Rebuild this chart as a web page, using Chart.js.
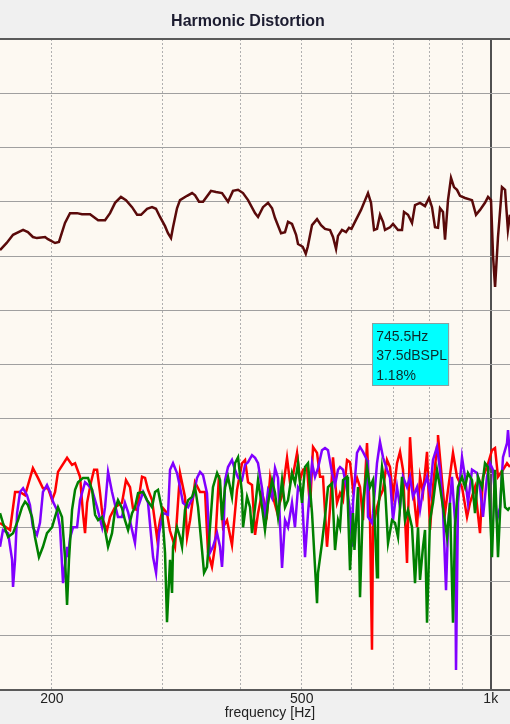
<!doctype html>
<html><head>
<script src="https://cdn.jsdelivr.net/npm/chart.js"></script>
<style>
html, body { margin: 0; padding: 0; background: #f0f0f0; }
canvas { display: block; }
</style>
</head>
<body>
<canvas id="myChart" width="510" height="724"></canvas>
<script>
var chartTitle = 'Harmonic Distortion';
var xTitle = 'frequency [Hz]';
var xTicks = [200, 300, 400, 500, 600, 700, 800, 900, 1000];
var xTickLabels = { 200: '200', 500: '500', 1000: '1k' };
var cursorHz = 745.5;
var cursorText = ['745.5Hz', '37.5dBSPL', '1.18%'];

// fundamental (dark brown)
var fundHz = [
  165.3,169.4,173.4,179.9,183.1,186.5,189.3,195.0,197.1,202.3,
  205.2,209.8,213.7,219.3,223.3,230.0,236.9,243.0,247.5,252.1,
  257.6,262.4,268.3,273.3,277.3,283.5,288.7,292.9,297.3,302.8,
  306.1,309.5,311.8,316.4,319.9,328.3,334.4,338.1,343.0,348.1,
  358.4,365.1,373.2,381.5,388.5,395.8,403.1,410.6,421.2,425.9,
  433.7,441.8,448.4,453.3,463.4,470.2,475.4,482.4,489.7,493.2,
  501.8,507.4,511.1,519.2,528.8,536.6,544.5,554.6,560.7,567.0,
  571.1,579.5,588.1,594.6,600.0,606.6,621.4,637.5,644.6,651.8,
  659.0,666.2,673.6,678.5,691.1,698.8,711.7,722.2,727.5,738.3,
  749.2,757.5,771.5,785.8,797.4,806.2,815.1,824.1,830.2,839.4,
  845.6,854.9,864.4,873.9,883.6,893.4,910.0,933.6,947.4,961.4,
  979.1,990.1,1001,1008.7,1016,1027,1042,1054,1065,1073
];
var fundDb = [
  81.1,82.4,83.9,84.8,84.4,83.5,83.3,83.5,83.1,82.4,
  82.6,86.1,87.9,87.9,87.7,87.7,86.6,86.6,87.9,89.8,
  90.9,90.3,89.0,87.6,87.6,88.7,89.0,88.7,87.2,85.5,
  84.2,83.3,85.3,88.8,90.3,91.1,91.6,91.2,90.0,90.0,
  92.0,91.8,91.6,90.0,92.0,92.2,91.6,90.3,87.9,87.2,
  89.0,89.8,88.8,87.0,84.2,84.4,86.3,85.9,83.9,82.2,
  81.7,80.4,81.7,85.7,86.8,85.7,85.0,84.8,83.5,81.3,
  83.7,84.8,84.4,85.2,85.0,86.1,88.5,91.6,89.8,84.8,
  85.0,87.6,86.3,84.8,85.3,85.9,84.8,84.8,88.1,87.6,
  86.1,89.4,89.8,89.2,90.7,89.0,85.3,85.2,88.8,88.1,
  83.0,90.3,94.4,92.7,92.2,91.1,90.7,90.3,87.6,88.5,
  89.8,90.9,90.3,79.8,74.3,83.5,92.7,92.2,84.8,87.6
];

// red trace
var h2Hz = [
  165.3,171.5,174.7,177.9,181.2,186.5,190.0,193.5,197.1,200.1,
  202.3,204.5,211.4,215.3,217.7,221.7,224.1,225.8,227.5,230.8,
  233.4,236.0,238.6,241.2,244.8,247.5,252.1,258.6,262.4,266.3,
  269.2,273.3,278.3,281.4,284.5,288.7,294.1,297.3,300.6,305.0,
  308.4,314.1,319.9,325.8,328.3,331.9,338.0,344.3,350.7,354.5,
  359.7,363.7,369.1,374.6,380.1,387.1,394.3,401.6,406.1,410.6,
  416.6,421.3,425.9,432.2,440.2,445.1,450.0,456.7,465.1,473.7,
  478.9,484.2,491.4,496.8,502.3,509.8,515.4,521.1,528.8,534.6,
  540.5,548.5,554.6,560.7,569.0,575.3,581.7,590.3,596.8,603.4,
  612.3,619.1,625.9,635.2,642.2,646.9,649.3,658.9,666.2,673.6,
  683.5,691.1,698.7,709.1,716.9,724.8,735.6,743.7,751.9,763.1,
  771.5,780.0,791.6,800.3,809.1,821.1,824.1,836.3,845.6,854.9,
  870.7,883.6,900.0,916.7,926.8,943.9,961.4,972.0,986.4,1004.6,
  1015.8,1027.0,1046.0,1061.5,1073.2
];
var h2Db = [
  30.8,29.5,36.5,36.5,35.9,40.9,39.1,37.2,37.2,35.0,
  36.5,40.2,42.8,41.5,41.8,39.3,32.6,28.9,34.5,38.3,
  40.6,40.6,36.3,31.3,29.5,31.9,33.7,34.5,38.7,37.4,
  33.5,33.2,39.3,39.1,36.9,35.0,28.0,31.3,33.5,32.6,
  29.3,26.4,40.0,35.6,28.2,31.3,38.3,36.5,36.5,25.4,
  22.7,26.4,39.6,30.0,31.3,26.7,36.9,41.8,42.4,38.3,
  37.8,28.6,32.6,36.3,32.6,39.1,35.6,32.8,35.9,42.8,
  38.3,39.6,43.7,38.7,40.6,40.9,33.7,44.8,43.7,39.3,
  39.3,26.4,33.5,42.9,34.5,36.3,35.0,42.4,42.0,36.9,
  39.1,37.4,31.3,45.5,31.3,7.4,30.0,33.7,35.6,36.9,
  42.4,41.1,35.6,41.8,43.9,40.6,23.4,46.6,37.4,30.0,
  39.3,36.3,43.9,29.5,37.4,44.8,47.0,38.7,32.6,36.9,
  43.7,39.3,37.4,31.9,34.5,37.4,28.9,39.3,41.1,44.2,
  44.6,39.3,40.6,41.8,41.1
];

// purple trace
var h3Hz = [
  165.3,167.1,170.3,172.8,173.4,174.7,176.0,177.9,179.9,182.5,
  184.5,186.5,189.3,191.4,193.5,196.4,198.6,200.8,203.7,206.0,
  208.3,211.4,212.1,213.7,216.1,219.3,221.7,225.8,228.3,231.7,
  236.0,240.4,243.0,245.7,249.3,252.1,254.8,258.6,261.4,264.4,
  268.3,271.2,274.3,279.4,284.5,289.8,293.0,296.2,300.6,306.1,
  308.4,311.8,316.4,319.9,323.4,329.5,335.6,340.5,344.3,348.1,
  353.2,357.1,361.0,366.5,370.5,373.2,374.6,377.4,381.5,387.1,
  391.4,395.8,401.6,406.1,410.6,416.6,421.3,425.9,432.2,436.9,
  441.9,448.4,453.3,458.3,465.1,470.2,475.4,482.4,487.7,493.2,
  500.4,506.0,511.6,519.2,524.9,530.7,538.5,544.5,550.5,558.7,
  564.9,571.1,575.3,581.7,590.3,596.8,601.2,603.4,612.3,619.1,
  625.9,635.2,637.5,646.9,649.3,658.9,666.2,673.6,683.5,691.1,
  698.7,709.1,716.9,724.8,735.6,743.7,751.9,763.1,771.5,780.0,
  791.6,800.3,809.1,821.1,830.2,839.4,848.7,854.9,867.5,877.1,
  880.4,886.9,900.0,909.9,920.0,933.6,950.9,961.4,972.0,986.4,
  997.3,1008.3,1023.3,1034.6,1046.0,1061.5,1065.4,1073.2
];
var h3Db = [
  26.4,29.5,28.9,24.0,19.0,24.0,32.6,36.5,37.2,35.9,
  34.1,30.0,28.6,30.8,36.5,37.8,36.5,34.7,33.2,30.0,
  19.7,26.4,24.5,28.0,30.0,30.0,35.0,38.3,37.8,36.9,
  33.7,30.0,33.7,40.2,36.5,34.1,31.9,31.9,34.5,32.8,
  29.5,27.1,33.7,36.5,34.5,24.5,21.6,28.9,32.6,32.3,
  40.6,41.8,40.0,37.4,34.5,33.7,35.6,39.1,40.2,39.6,
  36.3,25.3,26.4,28.9,26.4,22.7,25.8,38.7,41.1,42.4,
  40.6,39.1,38.7,41.5,42.0,43.3,42.8,41.8,37.2,31.9,
  36.9,35.4,40.9,39.1,22.5,31.3,30.0,34.5,30.0,37.4,
  36.3,24.5,32.6,41.8,39.3,40.9,44.2,44.6,44.2,40.0,
  37.8,40.6,41.1,40.6,36.9,33.2,26.4,34.5,43.7,44.8,
  43.9,42.4,31.9,30.8,32.6,41.8,45.7,42.9,40.6,39.1,
  31.3,37.4,33.7,39.3,37.4,39.3,35.6,37.4,33.2,36.9,
  39.3,36.3,42.4,44.8,40.6,33.2,18.4,30.0,39.3,31.3,
  3.7,34.5,42.9,39.3,34.5,40.6,40.0,37.4,31.9,39.3,
  41.8,40.6,31.3,33.7,42.9,45.5,47.9,42.9
];

// green trace
var h4Hz = [
  165.3,167.1,170.3,173.4,176.6,179.2,181.2,183.1,185.9,187.9,
  190.7,193.5,196.4,200.1,202.3,204.5,207.5,209.8,211.4,212.9,
  215.3,217.7,220.1,224.1,228.3,231.7,234.3,236.9,240.4,243.0,
  245.7,249.3,252.1,254.8,258.6,261.4,264.4,268.3,271.2,274.3,
  279.4,283.5,288.7,291.9,295.1,299.5,302.8,305.0,308.4,310.7,
  311.8,316.4,319.9,322.3,325.8,329.5,334.4,338.0,341.8,346.8,
  349.4,353.2,357.1,361.0,366.5,370.5,373.2,377.4,381.5,387.1,
  391.4,395.8,401.6,403.1,409.1,413.6,416.6,421.3,425.9,432.2,
  436.9,441.9,448.4,453.3,458.3,465.1,470.2,475.4,482.4,487.7,
  493.2,500.4,506.0,511.6,519.2,524.9,528.8,530.7,538.5,544.5,
  550.5,558.7,564.9,571.1,575.3,581.7,590.3,592.4,596.8,603.4,
  606.6,614.6,619.1,625.9,635.2,642.2,649.3,658.9,661.3,671.1,
  678.5,686.1,696.2,703.9,711.7,722.2,730.2,738.3,749.2,757.5,
  765.9,771.5,780.0,785.8,791.6,800.3,809.1,821.1,830.2,839.4,
  851.8,861.2,870.7,877.1,886.9,900.0,909.9,920.0,933.6,943.9,
  954.4,968.5,979.2,990.0,1004.6,1015.8,1027.0,1042.2,1053.7,1065.4,
  1073.2
];
var h4Db = [
  32.6,30.8,28.2,28.9,31.3,33.7,34.7,34.1,31.9,28.2,
  24.5,26.4,28.9,30.0,31.9,33.7,31.9,24.5,15.7,24.0,
  33.2,36.9,38.3,39.1,39.1,36.9,32.3,31.3,31.9,29.5,
  26.4,28.9,33.2,35.0,33.5,31.3,29.5,32.6,33.7,36.3,
  36.5,35.0,33.7,36.5,36.9,33.2,25.3,12.5,24.0,17.9,
  26.4,30.0,28.2,26.4,33.2,35.0,35.6,37.4,33.7,25.8,
  21.6,22.7,30.0,37.4,40.0,38.7,31.3,37.4,39.3,35.6,
  41.8,42.9,36.3,30.0,35.6,33.7,28.9,33.7,38.7,33.7,
  29.5,34.5,38.7,36.3,31.9,38.7,33.7,35.0,40.0,38.1,
  41.8,34.5,41.1,41.8,32.6,22.7,16.0,21.6,27.1,31.9,
  37.4,38.1,25.8,31.3,30.0,38.7,39.3,33.7,22.1,32.6,
  25.8,37.4,17.1,34.5,41.1,37.4,38.7,20.8,32.6,41.1,
  37.4,27.1,31.3,30.8,28.2,39.3,31.3,33.2,30.0,19.7,
  30.0,20.3,26.4,29.5,12.4,31.3,34.5,40.6,37.4,33.7,
  28.2,34.5,12.4,30.0,37.4,39.3,37.4,40.0,38.7,32.6,
  39.3,37.4,41.8,41.1,24.5,40.6,24.5,40.6,33.7,33.2,
  33.7
];

function pts(hz, db) {
    return hz.map(function(f, i) { return { x: f, y: db[i] }; });
}

function trace(label, hz, db, color) {
    return {
        label: label,
        data: pts(hz, db),
        borderColor: color,
        borderWidth: 2.5,
        pointRadius: 0,
        tension: 0,
        fill: false
    };
}

// background, title, axis caption and the cursor readout box
var frame = {
    id: 'frame',
    beforeDraw: function(chart) {
        var c = chart.ctx, a = chart.chartArea;
        c.save();
        c.fillStyle = '#f0f0f0';
        c.fillRect(0, 0, chart.width, chart.height);
        c.fillStyle = '#fdf9f2';
        c.fillRect(a.left, a.top, a.right - a.left, a.bottom - a.top);
        c.restore();
    },
    afterDraw: function(chart) {
        var c = chart.ctx;
        c.save();
        c.textAlign = 'center';
        c.textBaseline = 'middle';
        c.fillStyle = '#1c1c30';
        c.font = 'bold 16px "Liberation Sans"';
        c.fillText(chartTitle, 248, 22);
        c.fillStyle = '#222';
        c.font = '14px "Liberation Sans"';
        c.fillText(xTitle, 270, 713);

        var cx = chart.scales.x.getPixelForValue(cursorHz);
        var w = 77, h = 63, top = 323;
        c.fillStyle = '#00ffff';
        c.fillRect(cx - w / 2, top, w, h);
        c.strokeStyle = '#8aa0a0';
        c.lineWidth = 1;
        c.strokeRect(Math.round(cx - w / 2) + 0.5, top + 0.5, w - 1, h - 1);
        c.fillStyle = '#0c2c2c';
        c.textAlign = 'left';
        c.font = '14px "Liberation Sans"';
        cursorText.forEach(function(t, i) {
            c.fillText(t, cx - w / 2 + 4, top + 14 + i * 19.5);
        });
        c.restore();
    }
};

function isDecade(ctx) { return ctx.tick && ctx.tick.value === 1000; }
function isEdge(ctx) { return ctx.tick && (ctx.tick.value === 0 || ctx.tick.value === 120); }

var myChart = new Chart(document.getElementById('myChart'), {
    type: 'line',
    data: {
        datasets: [
            trace('green', h4Hz, h4Db, '#008000'),
            trace('purple', h3Hz, h3Db, '#8000ff'),
            trace('red', h2Hz, h2Db, '#ff0000'),
            trace('fundamental', fundHz, fundDb, '#5a0a0a')
        ]
    },
    options: {
        responsive: false,
        animation: false,
        devicePixelRatio: 1,
        layout: { padding: { top: 39, left: 0, right: 0, bottom: 0 } },
        plugins: {
            legend: { display: false },
            tooltip: { enabled: false },
            title: { display: false }
        },
        scales: {
            x: {
                type: 'logarithmic',
                min: 165.3,
                max: 1073.2,
                afterBuildTicks: function(s) {
                    s.ticks = xTicks.map(function(v) { return { value: v }; });
                },
                afterFit: function(s) { s.height = 34; },
                ticks: {
                    autoSkip: false,
                    maxRotation: 0,
                    padding: 1,
                    color: '#222',
                    font: { family: 'Liberation Sans', size: 14 },
                    callback: function(v) { return xTickLabels[v] || ''; }
                },
                grid: {
                    drawTicks: false,
                    color: function(ctx) { return isDecade(ctx) ? '#505050' : '#b0b0b0'; },
                    lineWidth: function(ctx) { return isDecade(ctx) ? 2 : 1; }
                },
                border: {
                    display: false,
                    dash: function(ctx) { return isDecade(ctx) ? [] : [2, 2]; }
                }
            },
            y: {
                min: 0,
                max: 120,
                afterFit: function(s) { s.width = 0; },
                ticks: { display: false, stepSize: 10 },
                grid: {
                    drawTicks: false,
                    color: function(ctx) { return isEdge(ctx) ? '#5a5a5a' : '#a0a0a0'; },
                    lineWidth: function(ctx) { return isEdge(ctx) ? 2 : 1; }
                },
                border: { display: false }
            }
        }
    },
    plugins: [frame]
});
</script>
</body>
</html>
